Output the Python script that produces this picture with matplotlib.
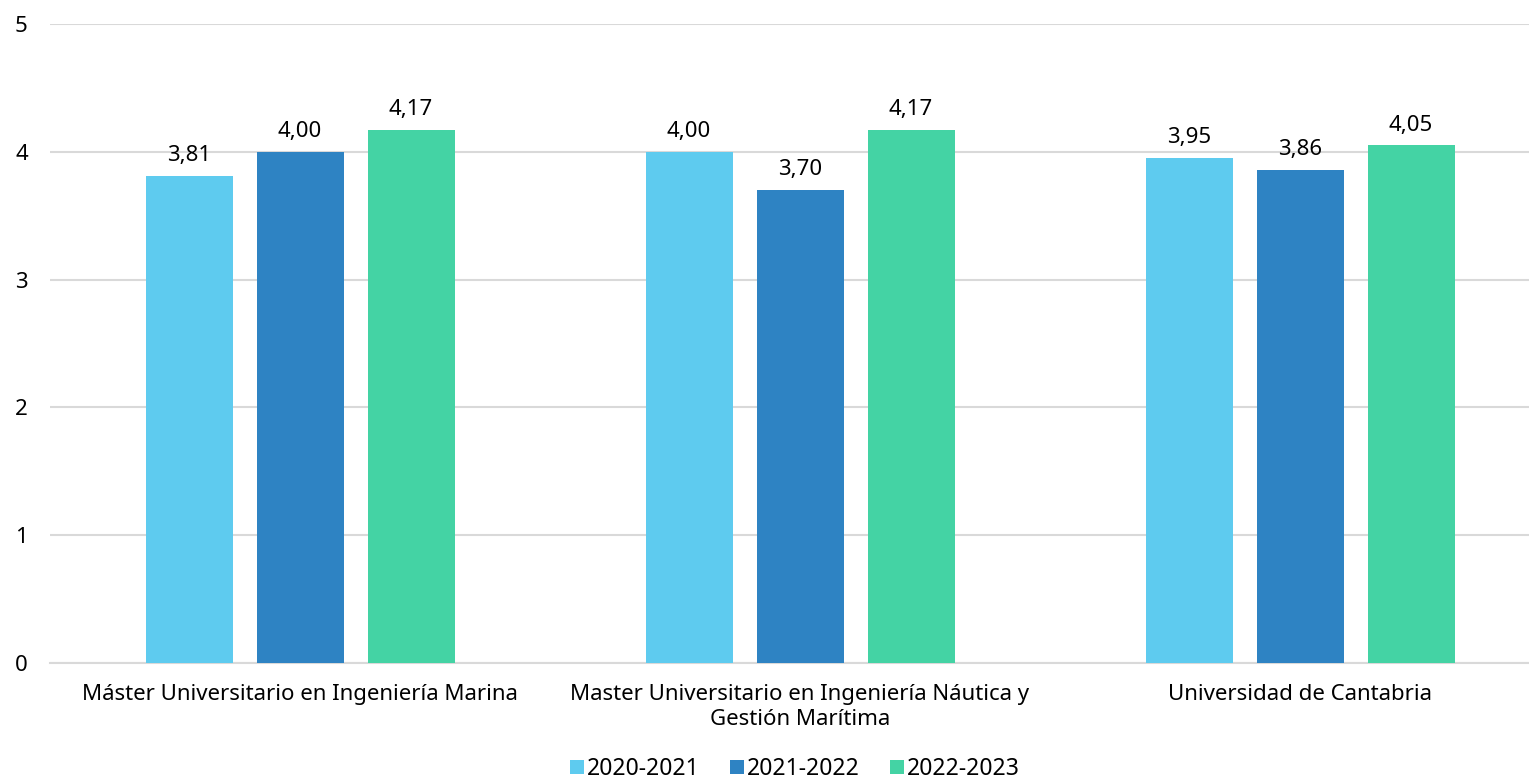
import matplotlib.pyplot as plt
import numpy as np

plt.rcParams['font.family'] = ['Noto Sans', 'DejaVu Sans']

categories = ['Máster Universitario en Ingeniería Marina',
              'Master Universitario en Ingeniería Náutica y\nGestión Marítima',
              'Universidad de Cantabria']
series = ['2020-2021', '2021-2022', '2022-2023']
values = [
    [3.81, 4.00, 3.95],
    [4.00, 3.70, 3.86],
    [4.17, 4.17, 4.05],
]
colors = ['#5ECBEF', '#2E83C3', '#44D3A4']

fig = plt.figure(figsize=(15.29, 7.82), dpi=100)
ax = fig.add_axes([50 / 1529, 1 - 663 / 782, 1500 / 1529, (663 - 24) / 782])

x = np.arange(len(categories))
width = 0.174
step = 0.222
for i, (name, vals, c) in enumerate(zip(series, values, colors)):
    bars = ax.bar(x + (i - 1) * step, vals, width, color=c, label=name, zorder=3)
    for b, v in zip(bars, vals):
        ax.annotate(f'{v:.2f}'.replace('.', ','), (b.get_x() + b.get_width() / 2, v),
                    xytext=(0, 7), textcoords='offset points',
                    ha='center', va='bottom', fontsize=16)

ax.set_xlim(-0.5, 2.5)
ax.set_ylim(0, 5)
ax.set_yticks(range(6))
ax.set_xticks(x)
ax.set_xticklabels(categories, fontsize=16, linespacing=1.25)
ax.tick_params(axis='y', labelsize=16, length=0, pad=16)
ax.tick_params(axis='x', length=0, pad=15)
ax.grid(axis='y', color='#D9D9D9', linewidth=1.5, zorder=0)
for s in ['top', 'right', 'left']:
    ax.spines[s].set_visible(False)
ax.spines['bottom'].set_color('#D9D9D9')
ax.spines['bottom'].set_linewidth(1.5)

fig.legend(loc='lower center', bbox_to_anchor=(795 / 1529, -0.025), ncol=3,
           frameon=False, fontsize=16.5, handlelength=0.6, handleheight=0.6,
           handletextpad=0.15, columnspacing=1.3)

fig.savefig('out.png', dpi=100)
